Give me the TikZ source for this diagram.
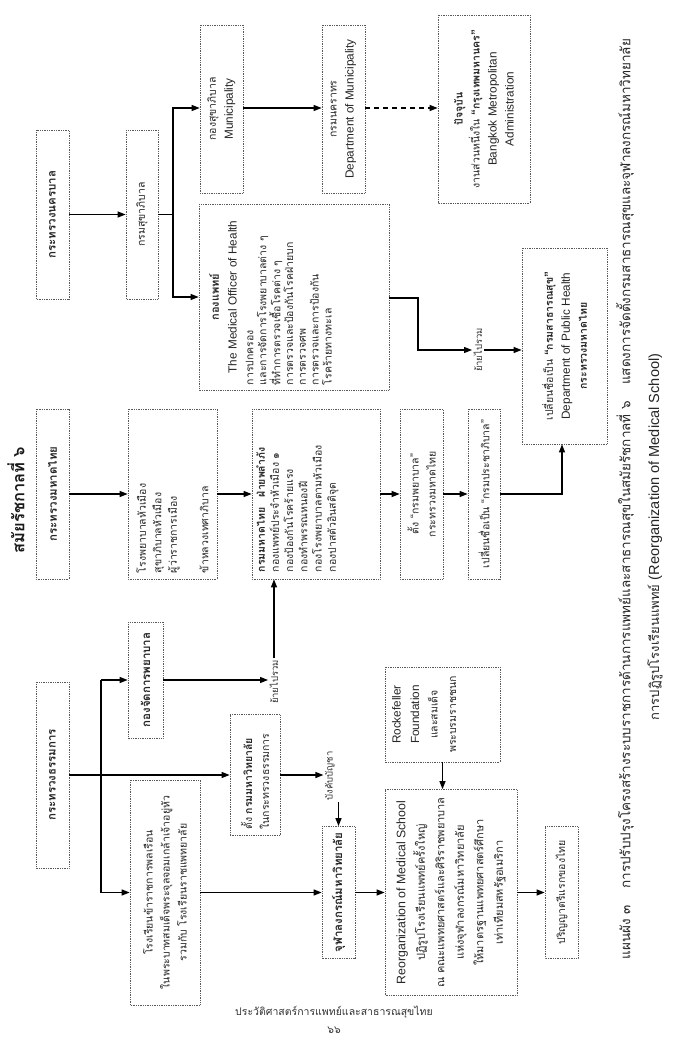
\documentclass[tikz,border=0pt]{standalone}
\usepackage{fontspec}
\setmainfont[Script=Thai]{Loma}
\newfontfamily\enfont[Scale=1.12]{Liberation Sans}
\usetikzlibrary{arrows.meta}
\newcommand\oq{{\enfont “}}
\newcommand\cq{{\enfont ”}}
\begin{document}
\begin{tikzpicture}[x=1pt,y=-1pt,
  bx/.style={draw=black!65, densely dotted, line width=0.75pt, rotate=90, inner xsep=6pt, inner ysep=2pt, align=center, font=\fontsize{10.5}{17}\selectfont, text=black!85},
  bldtxt/.style={font=\fontsize{11.5}{17}\selectfont\bfseries},
  txt/.style={rotate=90, inner sep=0pt, text=black!85},
  lbl/.style={rotate=90, inner sep=1.5pt, font=\fontsize{9.5}{12}\selectfont, text=black!80},
  arr/.style={-{Triangle[length=8pt,width=6pt]}, line width=1.2pt},
  ln/.style={line width=1.2pt},
]
\fill[white] (0,0) rectangle (676,1045);
\useasboundingbox (0,0) rectangle (676,1045);

% title
\node[rotate=90, font=\fontsize{16.5}{18}\selectfont\bfseries, text=black!90] (title) at (16,500) {สมัยรัชกาลที่ ๖};

% nakhonban chain
\node[bx, bldtxt, minimum width=169pt, minimum height=33pt] (nakhon) at (52.5,214.5) {กระทรวงนครบาล};
\node[bx, minimum width=169pt, minimum height=32pt] (sukha) at (142,214.5) {กรมสุขาภิบาล};
\node[bx, minimum width=168pt, minimum height=43pt] (kongsukha) at (221.5,109) {กองสุขาภิบาล\\{\enfont Municipality}};
\node[bx, minimum width=168pt, minimum height=43pt] (nakhorathorn) at (343.5,109) {กรมนคราทร\\{\enfont Department of Municipality}};
\node[bx, minimum width=188pt, minimum height=92pt] (bma) at (484,109) {{\bfseries ปัจจุบัน}\\งานส่วนหนึ่งใน {\bfseries\oq กรุงเทพมหานคร\cq}\\{\enfont Bangkok Metropolitan}\\{\enfont Administration}};
\node[bx, minimum width=186pt, minimum height=190pt] (mohdoc) at (294,297) {};
\node[txt, anchor=north, text width=176pt, align=left, font=\fontsize{10.5}{12.8}\selectfont] (mohdocT) at (209,297) {\makebox[\hsize]{\bfseries\fontsize{11}{13}\selectfont กองแพทย์}\\[5pt]\makebox[\hsize]{\enfont The Medical Officer of Health}\\[4pt]การปกครอง\\และการจัดการโรงพยาบาลต่าง ๆ\\ที่ทำการตรวจเชื้อโรคต่าง ๆ\\การตรวจและป้องกันโรคฝ่ายบก\\การตรวจศพ\\การตรวจและการป้องกัน\\โรคร้ายทางทะเล};
\node[bx, minimum width=196pt, minimum height=85pt] (dph) at (564.5,346) {เปลี่ยนชื่อเป็น {\bfseries\oq กรมสาธารณสุข\cq}\\{\enfont Department of Public Health}\\{\bfseries กระทรวงมหาดไทย}};

% mahadthai chain
\node[bx, bldtxt, minimum width=170pt, minimum height=33pt] (mahadthai) at (52.5,494) {กระทรวงมหาดไทย};
\node[bx, font=\fontsize{10.5}{15.5}\selectfont, minimum width=170pt, minimum height=89pt, text width=158pt, align=left] (rongpayaban) at (172.5,494) {โรงพยาบาลหัวเมือง\\สุขาภิบาลหัวเมือง\\ผู้ว่าราชการเมือง\\[16pt]ข้าหลวงเทศาภิบาล};
\node[bx, minimum width=170pt, minimum height=128pt] (krommahad) at (316,494) {};
\node[txt, anchor=north, text width=156pt, align=left, font=\fontsize{10.5}{14.2}\selectfont] (krommahadT) at (256,494) {{\bfseries กรมมหาดไทย\quad ฝ่ายพลำภัง}\\กองแพทย์ประจำหัวเมือง ๑\\กองป้องกันโรคร้ายแรง\\กองทำพรรณหนองฝี\\กองโรงพยาบาลตามหัวเมือง\\กองปาสตัวอินสติจุด};
\node[bx, minimum width=170pt, minimum height=43pt] (krompayaban) at (421.5,494) {ตั้ง \oq กรมพยาบาล\cq\\กระทรวงมหาดไทย};
\node[bx, minimum width=170pt, minimum height=32pt] (kromprachaban) at (484,494) {เปลี่ยนชื่อเป็น \oq กรมประชาภิบาล\cq};

% thammakan chain
\node[bx, bldtxt, minimum width=186pt, minimum height=33pt] (thammakan) at (52.5,775) {กระทรวงธรรมการ};
\node[bx, bldtxt, minimum width=116pt, minimum height=35pt] (kongjat) at (145.5,680) {กองจัดการพยาบาล};
\node[bx, minimum width=121pt, minimum height=50pt, text width=109pt, align=left] (tang) at (255,775) {ตั้ง {\bfseries กรมมหาวิทยาลัย}\\ในกระทรวงธรรมการ};
\node[bx, minimum width=225pt, minimum height=70pt] (rongrian) at (165,892.5) {โรงเรียนข้าราชการพลเรือน\\ในพระบาทสมเด็จพระจุลจอมเกล้าเจ้าอยู่หัว\\รวมกับ โรงเรียนราชแพทยาลัย};
\node[bx, bldtxt, minimum width=132pt, minimum height=33pt] (chula) at (338.5,892.5) {จุฬาลงกรณ์มหาวิทยาลัย};
\node[bx, minimum width=95pt, minimum height=115pt] (rockefeller) at (442.5,714.5) {};
\node[txt, anchor=north, align=center, font=\fontsize{10.5}{18.5}\selectfont] (rockefellerT) at (392,714.5) {{\enfont Rockefeller}\\{\enfont Foundation}\\และสมเด็จ\\พระบรมราชชนก};
\node[bx, font=\fontsize{11}{19.5}\selectfont, minimum width=206pt, minimum height=132pt] (reorg) at (451,892.5) {{\enfont Reorganization of Medical School}\\ปฏิรูปโรงเรียนแพทย์ครั้งใหญ่\\ณ คณะแพทยศาสตร์และศิริราชพยาบาล\\แห่งจุฬาลงกรณ์มหาวิทยาลัย\\ให้มาตรฐานแพทยศาสตร์ศึกษา\\เท่าเทียมสหรัฐอเมริกา};
\node[bx, minimum width=132pt, minimum height=33pt] (parinya) at (561.5,892.5) {ปริญญาตรีแรกของไทย};

% labels on connectors
\node[lbl] (mov1) at (478,350) {ย้ายไปรวม};
\node[lbl] (mov2) at (274,682) {ย้ายไปรวม};
\node[lbl] (bang) at (330,776) {บังคับบัญชา};

% helper coordinates
\coordinate (t0) at (173,214.5);
\coordinate (t1) at (173,108);
\coordinate (t2) at (173,297);
\coordinate (e1) at (418,298);
\coordinate (e2) at (418,350);
\coordinate (k1) at (562,494);
\coordinate (u1) at (101,680);
\coordinate (u2) at (101,892.5);

% connectors
\draw[arr] (nakhon.south) -- (sukha.north);
\draw[arr] (sukha.south) -- (t0) |- (kongsukha.north |- t1);
\draw[arr] (t0) |- (mohdoc.north |- t2);
\draw[arr] (kongsukha.south |- t1) -- (nakhorathorn.north |- t1);
\draw[arr, dash pattern=on 5pt off 4pt] (nakhorathorn.south |- t1) -- (bma.north |- t1);
\draw[arr] (mohdoc.south |- e1) -- (e1) -- (e2) -- (mov1.north |- e2);
\draw[arr] (mov1.south) -- (dph.north |- mov1.south);

\draw[arr] (mahadthai.south) -- (rongpayaban.north);
\draw[arr] (rongpayaban.south) -- (krommahad.north);
\draw[arr] (krommahad.south) -- (krompayaban.north);
\draw[arr] (krompayaban.south) -- (kromprachaban.north);
\draw[arr] (kromprachaban.south) -- (k1) -- (k1 |- dph.west);

\draw[arr] (thammakan.south) -- (tang.north);
\draw[ln] (u1) -- (u2);
\draw[arr] (u1) -- (kongjat.north |- u1);
\draw[arr] (u2) -- (rongrian.north |- u2);
\draw[arr] (kongjat.south) -- (mov2.north |- kongjat.south);
\draw[arr] (mov2.east) -- (mov2.east |- krommahad.west);
\draw[arr] (tang.south) -- (bang.north |- tang.south);
\draw[arr] (bang.west -| chula.east) -- (chula.east);
\draw[arr] (rongrian.south |- chula.north) -- (chula.north);
\draw[arr] (chula.south) -- (reorg.north |- chula.south);
\draw[arr] (rockefeller.west) -- (rockefeller.west |- reorg.east);
\draw[arr] (reorg.south |- parinya.north) -- (parinya.north);

% caption
\node[rotate=90, font=\fontsize{13.5}{16}\selectfont, text=black!85] (cap1) at (625,499) {แผนผัง ๓\hspace{1.2em}การปรับปรุงโครงสร้างระบบราชการด้านการแพทย์และสาธารณสุขในสมัยรัชกาลที่ ๖\hspace{1.2em}แสดงการจัดตั้งกรมสาธารณสุขและจุฬาลงกรณ์มหาวิทยาลัย};
\node[rotate=90, font=\fontsize{13}{16}\selectfont, text=black!85] (cap2) at (655,537) {การปฏิรูปโรงเรียนแพทย์ {\enfont (Reorganization of Medical School)}};

% footer
\node[font=\fontsize{10.5}{12}\selectfont, text=black!80] (foot) at (334,1012) {ประวัติศาสตร์การแพทย์และสาธารณสุขไทย};
\node[font=\fontsize{10.5}{12}\selectfont, text=black!80] (pg) at (334,1030) {๖๖};
\end{tikzpicture}
\end{document}
